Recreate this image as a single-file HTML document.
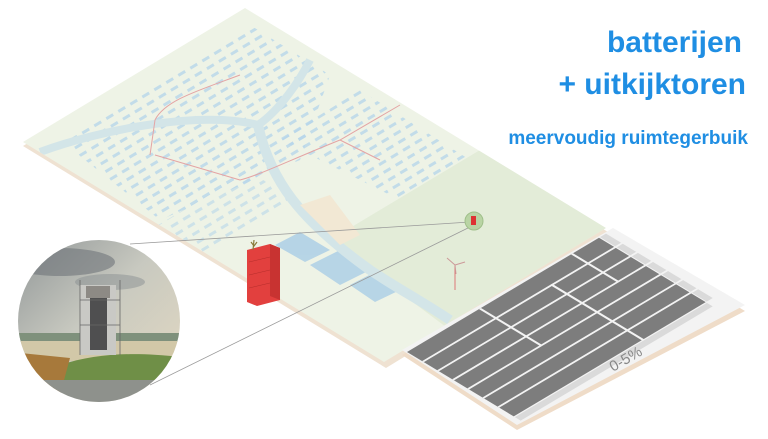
<!DOCTYPE html>
<html><head><meta charset="utf-8"><style>
html,body{margin:0;padding:0;background:#fff;}
body{width:768px;height:439px;overflow:hidden;position:relative;font-family:"Liberation Sans",sans-serif;}
.t{position:absolute;right:0;color:#1f8ee3;font-weight:bold;white-space:nowrap;}
</style></head><body>
<svg width="768" height="439" viewBox="0 0 768 439" style="position:absolute;left:0;top:0">
<defs>
<clipPath id="cc"><circle cx="99" cy="321" r="81"/></clipPath>
<linearGradient id="sky" x1="0" y1="0" x2="1" y2="1">
<stop offset="0" stop-color="#8c9294"/><stop offset="0.45" stop-color="#c8c9c0"/><stop offset="1" stop-color="#e8dcc2"/></linearGradient>
<clipPath id="mp"><polygon points="23,142 245,8 606,228 384,362"/></clipPath>
<pattern id="bld" width="14" height="9" patternUnits="userSpaceOnUse" patternTransform="rotate(-31)">
<rect width="14" height="9" fill="none"/><rect x="2" y="2" width="8" height="3" fill="#b7d6ea"/></pattern>
</defs>
<!-- map base -->
<polygon points="23,146 245,12 608,232 386,368" fill="#efe2d2"/>
<polygon points="23,142 245,8 606,228 384,362" fill="#eef3e6"/>
<g clip-path="url(#mp)">
<polygon points="330,240 480,150 606,228 450,330" fill="#e3ecd8"/>
<polygon points="60,140 250,25 330,75 300,160 160,220" fill="url(#bld)" opacity="0.8"/>
<polygon points="280,140 360,90 470,160 400,200" fill="url(#bld)" opacity="0.8"/>
<polygon points="150,230 250,170 290,200 200,260" fill="url(#bld)" opacity="0.6"/>
<g fill="#a9cde6" opacity="0.8">
<polygon points="275,245 300,232 330,250 305,262"/>
<polygon points="310,265 340,250 370,270 340,285"/>
<polygon points="350,285 375,272 400,290 375,302"/>
</g>
<path d="M40,152 C100,130 200,110 258,125 C280,110 300,80 310,60" stroke="#d3e5e8" stroke-width="8" fill="none"/>
<path d="M258,125 C270,180 300,220 370,270 C400,290 420,300 450,320" stroke="#d3e5e8" stroke-width="10" fill="none"/>
<polygon points="300,205 330,195 360,235 340,245" fill="#f2e8d4"/>
<path d="M150,155 L155,120 C165,100 200,90 240,75 M240,180 C260,175 290,160 340,140 L400,105 M155,155 L240,180 M340,140 L380,160" stroke="#e4a4a4" stroke-width="1" fill="none"/>
</g>
<!-- solar panel plate -->
<polygon points="402,355 613,232 745,311 517,430" fill="#efdcc8"/>
<polygon points="402,350 613,228 745,305 517,425" fill="#f3f3f3"/>
<g transform="matrix(200,-119,116,70,407,352)">
<rect x="0" y="0" width="0.96" height="0.92" fill="#7d7d7d"/>
<rect x="0" y="0.93" width="0.96" height="0.05" fill="#dadada"/>
<rect x="0.965" y="0" width="0.03" height="0.92" fill="#dadada"/>
<g fill="#f3f3f3">
<rect x="0" y="0.13" width="1" height="0.015"/>
<rect x="0" y="0.26" width="1" height="0.015"/>
<rect x="0" y="0.39" width="1" height="0.015"/>
<rect x="0" y="0.52" width="1" height="0.015"/>
<rect x="0" y="0.65" width="1" height="0.015"/>
<rect x="0" y="0.78" width="1" height="0.015"/>
<rect x="0.36" y="0" width="0.01" height="0.53"/>
<rect x="0.64" y="0.13" width="0.01" height="0.8"/>
<rect x="0.82" y="0" width="0.01" height="0.4"/>
</g>
</g>
<text x="613" y="372" transform="rotate(-30 613 372)" font-family="Liberation Sans,sans-serif" font-size="15" fill="#888">0-5%</text>
<!-- connector lines -->
<line x1="130" y1="244" x2="470" y2="222" stroke="#9a9a9a" stroke-width="0.8"/>
<line x1="150" y1="385" x2="472" y2="226" stroke="#9a9a9a" stroke-width="0.8"/>
<circle cx="474" cy="221" r="9" fill="#b9d4a4" stroke="#9fbf8a"/>
<rect x="471" y="216" width="5" height="9" fill="#d33"/>
<line x1="455" y1="265" x2="455" y2="290" stroke="#d77" stroke-width="1"/>
<path d="M455,265 L447,258 M455,265 L465,262 M455,265 L456,274" stroke="#c99" stroke-width="1"/>
<!-- red battery block -->
<polygon points="247,250 270,244 280,248 280,300 257,306 247,302" fill="#e2403e"/>
<polygon points="270,244 280,248 280,300 270,296" fill="#c83331"/>
<g stroke="#b52e2c" stroke-width="0.5"><line x1="249" y1="262" x2="270" y2="257"/><line x1="249" y1="275" x2="270" y2="270"/><line x1="249" y1="288" x2="270" y2="283"/></g>
<path d="M253,250 L254,240 M251,242 L254,246 L257,242" stroke="#8a7a3a" stroke-width="1.2" fill="none"/>
<!-- circle illustration -->
<g clip-path="url(#cc)">
<rect x="10" y="235" width="180" height="175" fill="url(#sky)"/>
<ellipse cx="60" cy="262" rx="55" ry="14" fill="#6f7579" opacity="0.6"/>
<ellipse cx="110" cy="282" rx="35" ry="8" fill="#8a8f92" opacity="0.5"/>
<rect x="10" y="333" width="180" height="10" fill="#7f917c"/>
<rect x="10" y="341" width="180" height="20" fill="#d2c8a8"/>
<path d="M60,365 C100,352 140,352 190,358 L190,380 L60,380Z" fill="#6f8f47"/>
<path d="M10,352 L70,358 L60,395 L10,395Z" fill="#a7793b"/>
<rect x="10" y="380" width="180" height="40" fill="#8e918c"/>
<rect x="80" y="285" width="36" height="70" fill="#c9c9c5"/>
<rect x="90" y="295" width="17" height="55" fill="#4f4f50"/>
<rect x="86" y="286" width="24" height="12" fill="#8d8a85"/>
<g stroke="#666" stroke-width="0.8"><line x1="80" y1="280" x2="80" y2="355"/><line x1="120" y1="280" x2="120" y2="355"/><line x1="80" y1="300" x2="120" y2="300"/><line x1="80" y1="325" x2="120" y2="325"/></g>
</g>
</svg>
<div class="t" style="right:26px;top:26px;font-size:30px;">batterijen</div>
<div class="t" style="right:22px;top:68px;font-size:30px;">+ uitkijktoren</div>
<div class="t" style="right:20px;top:128px;font-size:19px;">meervoudig ruimtegerbuik</div>
</body></html>
